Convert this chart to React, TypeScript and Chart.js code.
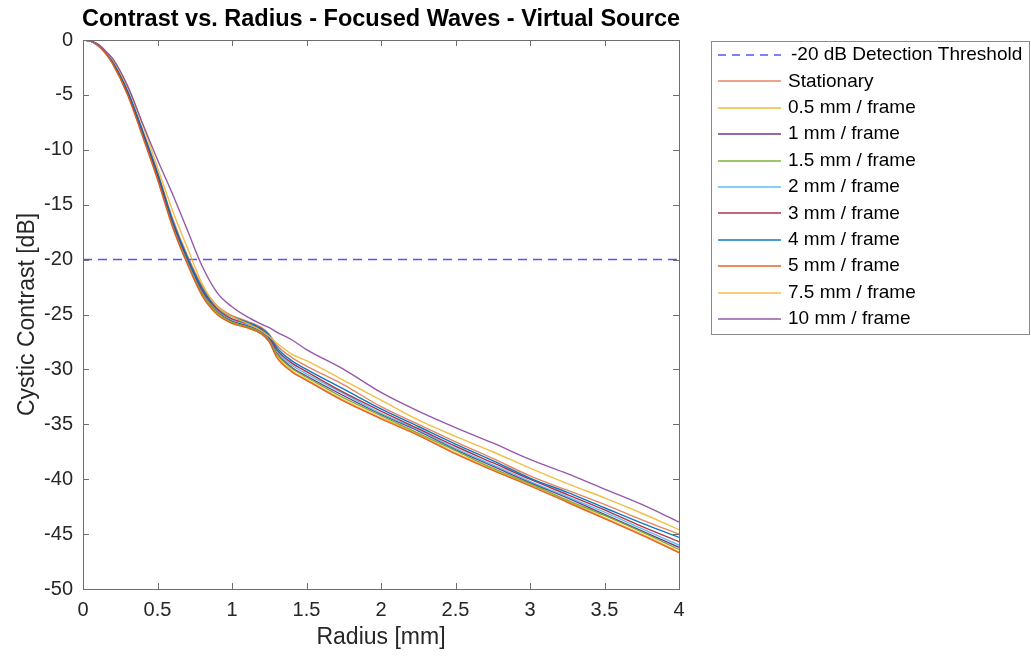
import React, { useEffect, useRef } from "react";
import { Chart, registerables } from "chart.js";

Chart.register(...registerables);

const radius = [0, 0.05, 0.1, 0.15, 0.2, 0.3, 0.4, 0.5, 0.6, 0.7, 0.8, 0.9, 1.0, 1.1, 1.2, 1.25, 1.3, 1.4, 1.5, 1.75, 2.0, 2.25, 2.5, 2.75, 3.0, 3.25, 3.5, 3.75, 4.0];

const thresholdDb = -20;

const stationary = [0, -0.1, -0.4, -1.0, -1.9, -4.6, -8.2, -12.0, -16.2, -19.6, -22.4, -24.2, -25.1, -25.6, -26.2, -26.8, -27.8, -28.9, -29.7, -31.4, -33.4, -35.0, -36.6, -38.1, -39.7, -41.0, -42.3, -43.7, -45.0];
const v05 = [0, -0.1, -0.5, -1.2, -2.2, -5.0, -8.7, -12.6, -16.9, -20.3, -23.2, -24.9, -25.8, -26.2, -26.8, -27.5, -28.8, -30.1, -30.9, -32.8, -34.4, -35.9, -37.6, -39.1, -40.5, -42.0, -43.5, -45.0, -46.6];
const v1 = [0, -0.1, -0.5, -1.1, -2.1, -4.9, -8.6, -12.5, -16.7, -20.1, -23.0, -24.7, -25.6, -26.0, -26.6, -27.3, -28.5, -29.8, -30.6, -32.4, -34.1, -35.6, -37.3, -38.8, -40.3, -41.7, -43.2, -44.7, -46.2];
const v15 = [0, -0.1, -0.5, -1.2, -2.1, -4.9, -8.6, -12.5, -16.8, -20.2, -23.1, -24.8, -25.7, -26.1, -26.7, -27.4, -28.6, -29.9, -30.7, -32.6, -34.2, -35.8, -37.4, -39.0, -40.4, -41.9, -43.3, -44.8, -46.4];
const v2 = [0, -0.1, -0.5, -1.1, -2.1, -4.8, -8.5, -12.4, -16.6, -20.0, -22.9, -24.6, -25.5, -25.9, -26.5, -27.2, -28.3, -29.6, -30.4, -32.2, -34.0, -35.5, -37.2, -38.7, -40.2, -41.6, -43.0, -44.5, -46.0];
const v3 = [0, -0.1, -0.4, -1.1, -2.0, -4.8, -8.4, -12.3, -16.5, -19.9, -22.8, -24.5, -25.4, -25.8, -26.4, -27.1, -28.2, -29.4, -30.2, -32.1, -33.8, -35.4, -37.0, -38.5, -40.0, -41.4, -42.8, -44.3, -45.7];
const v4 = [0, -0.1, -0.4, -1.0, -2.0, -4.7, -8.3, -12.1, -16.4, -19.8, -22.6, -24.4, -25.2, -25.7, -26.3, -26.9, -28.0, -29.2, -30.0, -31.8, -33.6, -35.2, -36.8, -38.3, -39.9, -41.2, -42.6, -44.0, -45.3];
const v5 = [0, -0.1, -0.5, -1.2, -2.2, -5.0, -8.8, -12.7, -17.0, -20.4, -23.3, -25.0, -25.8, -26.2, -26.8, -27.5, -28.9, -30.2, -31.0, -32.9, -34.5, -36.0, -37.7, -39.2, -40.6, -42.1, -43.6, -45.1, -46.7];
const v75 = [0, -0.1, -0.4, -1.0, -1.8, -4.3, -7.7, -11.6, -15.5, -18.9, -22.2, -24.3, -25.2, -25.8, -26.5, -27.0, -27.6, -28.6, -29.2, -31.0, -32.8, -34.6, -36.1, -37.5, -39.0, -40.4, -41.7, -43.1, -44.6];
const v10 = [0, -0.1, -0.4, -1.0, -1.7, -4.2, -7.6, -10.9, -14.0, -17.3, -20.6, -23.0, -24.3, -25.2, -25.9, -26.2, -26.6, -27.3, -28.2, -30.0, -32.1, -33.8, -35.3, -36.7, -38.2, -39.5, -40.9, -42.3, -43.9];

const seriesLabels = ["Stationary", "0.5 mm / frame", "1 mm / frame", "1.5 mm / frame", "2 mm / frame", "3 mm / frame", "4 mm / frame", "5 mm / frame", "7.5 mm / frame", "10 mm / frame"];
const seriesValues = [stationary, v05, v1, v15, v2, v3, v4, v5, v75, v10];
const seriesColors = [
  "rgba(225,120,80,0.9)",
  "rgba(237,177,32,0.9)",
  "rgba(110,40,130,0.95)",
  "rgba(119,172,48,0.95)",
  "rgba(77,190,238,0.95)",
  "rgba(170,30,60,0.9)",
  "rgba(0,114,189,0.95)",
  "rgba(230,90,30,0.95)",
  "rgba(240,185,50,0.9)",
  "rgba(140,70,160,0.9)",
];
const thresholdLabel = "-20 dB Detection Threshold";
const thresholdColor = "rgba(40,40,255,0.8)";

const xTicks = [0, 0.5, 1, 1.5, 2, 2.5, 3, 3.5, 4];
const yTicks = [-50, -45, -40, -35, -30, -25, -20, -15, -10, -5, 0];

const FONT = "'Liberation Sans', Arial, Helvetica, sans-serif";
const TEXT = "#262626";
const AXIS = "#6e6e6e";

const decorPlugin = {
  id: "decor",
  afterDraw(chart: any) {
    const ctx = chart.ctx;
    const { left, right, top, bottom } = chart.chartArea;
    const xs = chart.scales.x;
    const ys = chart.scales.y;
    ctx.save();
    ctx.strokeStyle = AXIS;
    ctx.lineWidth = 1;
    ctx.strokeRect(Math.round(left) + 0.5, Math.round(top) + 0.5, Math.round(right - left), Math.round(bottom - top));
    const tl = 6;
    ctx.beginPath();
    xTicks.forEach((v) => {
      const px = Math.round(xs.getPixelForValue(v)) + 0.5;
      ctx.moveTo(px, bottom);
      ctx.lineTo(px, bottom - tl);
      ctx.moveTo(px, top);
      ctx.lineTo(px, top + tl);
    });
    yTicks.forEach((v) => {
      const py = Math.round(ys.getPixelForValue(v)) + 0.5;
      ctx.moveTo(left, py);
      ctx.lineTo(left + tl, py);
      ctx.moveTo(right, py);
      ctx.lineTo(right - tl, py);
    });
    ctx.stroke();
    ctx.fillStyle = "#000";
    ctx.font = `bold 23.5px ${FONT}`;
    ctx.textAlign = "center";
    ctx.textBaseline = "middle";
    ctx.fillText("Contrast vs. Radius - Focused Waves - Virtual Source", (left + right) / 2, 20);
    const lx = 711.5, ly = 41.5, lw = 318, lh = 293;
    ctx.fillStyle = "#fff";
    ctx.fillRect(lx, ly, lw, lh);
    ctx.strokeStyle = "#8a8a8a";
    ctx.strokeRect(lx, ly, lw, lh);
    const labels = [thresholdLabel, ...seriesLabels];
    const colors = [thresholdColor, ...seriesColors];
    ctx.font = `19px ${FONT}`;
    ctx.textAlign = "left";
    labels.forEach((lab, i) => {
      const y = 55 + i * 26.4;
      ctx.beginPath();
      ctx.strokeStyle = colors[i];
      ctx.lineWidth = 1.4;
      ctx.setLineDash(i === 0 ? [8, 6] : []);
      ctx.moveTo(718, Math.round(y));
      ctx.lineTo(781, Math.round(y));
      ctx.stroke();
      ctx.setLineDash([]);
      ctx.fillStyle = "#000";
      ctx.fillText(lab, i === 0 ? 791 : 788, y);
    });
    ctx.restore();
  },
};

export default function App() {
  const ref = useRef<HTMLCanvasElement>(null);
  useEffect(() => {
    if (!ref.current) return;
    const datasets: any[] = [
      {
        label: thresholdLabel,
        data: [
          { x: xTicks[0], y: thresholdDb },
          { x: xTicks[xTicks.length - 1], y: thresholdDb },
        ],
        borderColor: thresholdColor,
        borderWidth: 1.5,
        borderDash: [9, 6],
        pointRadius: 0,
        order: 100,
      },
      ...seriesValues.map((vals, i) => ({
        label: seriesLabels[i],
        data: radius.map((r, j) => ({ x: r, y: vals[j] })),
        borderColor: seriesColors[i],
        borderWidth: 1.4,
        pointRadius: 0,
        cubicInterpolationMode: "monotone",
        order: 50 - i,
      })),
    ];
    const chart = new Chart(ref.current, {
      type: "line",
      data: { datasets },
      options: {
        animation: false,
        responsive: false,
        devicePixelRatio: 1,
        layout: { padding: { left: 0, top: 40, right: 352, bottom: 0 } },
        plugins: { legend: { display: false }, tooltip: { enabled: false }, title: { display: false } },
        scales: {
          x: {
            type: "linear",
            min: 0,
            max: 4,
            afterFit: (s: any) => {
              s.height = 68;
            },
            afterBuildTicks: (s: any) => {
              s.ticks = xTicks.map((v) => ({ value: v }));
            },
            ticks: { color: TEXT, font: { family: FONT, size: 20 }, padding: 9, maxRotation: 0, autoSkip: false, callback: (v: any) => String(v) },
            grid: { display: false, drawTicks: false },
            border: { display: false },
            title: { display: true, text: "Radius [mm]", color: TEXT, font: { family: FONT, size: 23 }, padding: { top: 0, bottom: 6 } },
          },
          y: {
            type: "linear",
            min: -50,
            max: 0,
            afterFit: (s: any) => {
              s.width = 83;
            },
            afterBuildTicks: (s: any) => {
              s.ticks = yTicks.map((v) => ({ value: v }));
            },
            ticks: { color: TEXT, font: { family: FONT, size: 20 }, padding: 10, autoSkip: false, callback: (v: any) => String(v) },
            grid: { display: false, drawTicks: false },
            border: { display: false },
            title: { display: true, text: "Cystic Contrast [dB]", color: TEXT, font: { family: FONT, size: 23 }, padding: { top: 14, bottom: 0 } },
          },
        },
      },
      plugins: [decorPlugin],
    });
    return () => chart.destroy();
  }, []);
  return (
    <div style={{ position: "fixed", left: 0, top: 0, width: 1031, height: 657, background: "#fff" }}>
      <canvas ref={ref} width={1031} height={657} style={{ display: "block" }} />
    </div>
  );
}
